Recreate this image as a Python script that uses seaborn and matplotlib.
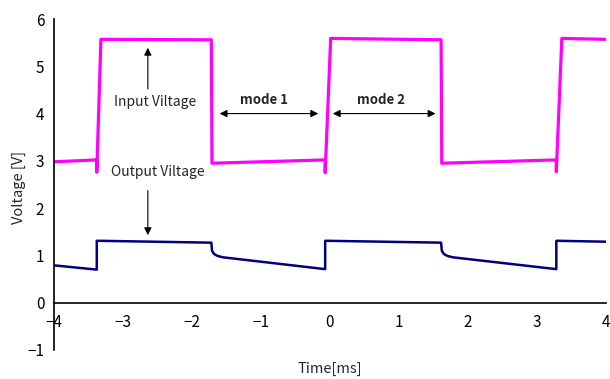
import matplotlib
matplotlib.use("Agg")
import matplotlib.pyplot as plt
import seaborn as sns
import pandas as pd

# Input voltage waveform (time in ms, voltage in V)
t_in = [-4.0, -3.38, -3.38, -3.32, -1.72, -1.71, -0.07, -0.07, 0.01,
        1.61, 1.62, 3.28, 3.28, 3.36, 4.0]
v_in = [2.98, 3.02, 2.76, 5.57, 5.56, 2.95, 3.02, 2.75, 5.59,
        5.56, 2.95, 3.02, 2.77, 5.59, 5.57]

# Output voltage waveform
t_out = [-4.0, -3.38, -3.38, -1.72, -1.71, -1.68, -1.63, -1.55,
         -0.07, -0.07, 1.61, 1.62, 1.65, 1.70, 1.78, 3.28, 3.28, 4.0]
v_out = [0.79, 0.70, 1.31, 1.27, 1.10, 1.03, 0.99, 0.96,
         0.71, 1.31, 1.27, 1.10, 1.03, 0.99, 0.96, 0.71, 1.31, 1.29]

x_ticks = [-4, -3, -2, -1, 0, 1, 2, 3, 4]
y_ticks = [-1, 0, 1, 2, 3, 4, 5, 6]

sns.set_style("white")
plt.rcParams['font.family'] = ['Noto Sans CJK JP', 'DejaVu Sans']
plt.rcParams['axes.unicode_minus'] = True

fig = plt.figure(figsize=(6.1, 3.79), dpi=100)
ax = fig.add_axes([54/610, 1-350/379, 552/610, 331/379])

df_in = pd.DataFrame({"t": t_in, "v": v_in})
df_out = pd.DataFrame({"t": t_out, "v": v_out})
sns.lineplot(data=df_in, x="t", y="v", sort=False, estimator=None,
             color="#FF00FF", lw=2.3, ax=ax)
sns.lineplot(data=df_out, x="t", y="v", sort=False, estimator=None,
             color="#000080", lw=1.8, ax=ax)

ax.set_xlim(-4, 4)
ax.set_ylim(-1, 6)
ax.set_xticks(x_ticks)
ax.set_yticks(y_ticks)
ax.set_xticklabels([f"{v}".replace("-", "\u2212") for v in x_ticks])
ax.set_yticklabels([f"{v}".replace("-", "\u2212") for v in y_ticks])

for s in ["top", "right"]:
    ax.spines[s].set_visible(False)
ax.spines["bottom"].set_position(("data", 0))
for s in ["left", "bottom"]:
    ax.spines[s].set_color("black")
    ax.spines[s].set_linewidth(1.2)
ax.tick_params(axis="both", direction="in", length=4, width=1,
               colors="black", labelsize=11, pad=7)
ax.tick_params(axis="x", pad=8)

ax.set_xlabel("Time[ms]", fontsize=10.5)
ax.set_ylabel("Voltage [V]", fontsize=10.5)
ax.xaxis.set_label_coords(0.5, -0.035)
ax.xaxis.label.set_va("top")
ax.yaxis.set_label_coords(-0.05, 0.49)

arrow = dict(arrowstyle="-|>", color="black", lw=0.8, mutation_scale=11)
darrow = dict(arrowstyle="<|-|>", color="black", lw=0.8, mutation_scale=11)

ax.annotate("", xy=(-2.64, 5.45), xytext=(-2.64, 4.46), arrowprops=arrow)
ax.annotate("", xy=(-2.64, 1.37), xytext=(-2.64, 2.43), arrowprops=arrow)
ax.annotate("", xy=(-1.64, 4.0), xytext=(-0.13, 4.0), arrowprops=darrow)
ax.annotate("", xy=(0.0, 4.0), xytext=(1.57, 4.0), arrowprops=darrow)

ax.text(-2.54, 4.25, "Input Viltage", ha="center", va="center", fontsize=10)
ax.text(-2.49, 2.77, "Output Viltage", ha="center", va="center", fontsize=10)
ax.text(-0.96, 4.28, "mode 1", ha="center", va="center", fontsize=9.5,
        fontweight="bold")
ax.text(0.74, 4.28, "mode 2", ha="center", va="center", fontsize=9.5,
        fontweight="bold")

fig.savefig("out.png", dpi=100)
